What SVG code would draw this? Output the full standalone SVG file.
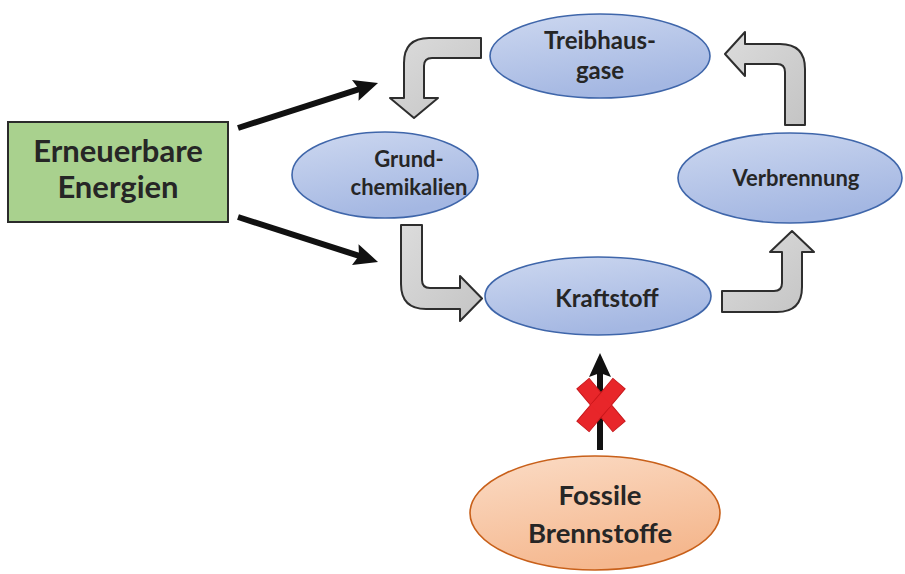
<svg xmlns="http://www.w3.org/2000/svg" width="905" height="574" viewBox="0 0 905 574">
<defs>
<linearGradient id="gBlue" x1="0" y1="0" x2="0.4" y2="1">
<stop offset="0" stop-color="#cdd8f0"/>
<stop offset="1" stop-color="#a4b7e2"/>
</linearGradient>
<linearGradient id="gOrange" x1="0" y1="0" x2="0.4" y2="1">
<stop offset="0" stop-color="#fbdcc6"/>
<stop offset="1" stop-color="#f5b88f"/>
</linearGradient>
<linearGradient id="gGray" x1="0" y1="0" x2="1" y2="1">
<stop offset="0" stop-color="#dcdcdc"/>
<stop offset="1" stop-color="#c4c4c4"/>
</linearGradient>
<marker id="ah" viewBox="0 0 24 22" markerWidth="24" markerHeight="22" markerUnits="userSpaceOnUse" refX="10" refY="11" orient="auto">
<path d="M0,0 L24,11 L0,22 L4,11 Z" fill="#111"/>
</marker>
<style>
.blue{fill:url(#gBlue);stroke:#3f66aa;stroke-width:1.6}
.orange{fill:url(#gOrange);stroke:#c8601a;stroke-width:1.6}
.green{fill:#a9d18e;stroke:#2b2b2b;stroke-width:2}
.bent{fill:url(#gGray);stroke:#2e2e2e;stroke-width:2;stroke-linejoin:round}
.blk{stroke:#111;stroke-width:6;fill:none;marker-end:url(#ah)}
.x{fill:#e8262a;stroke:#c8161a;stroke-width:1}
text{font-family:Lato,"Open Sans","Liberation Sans",sans-serif;font-weight:bold;fill:#262626;text-anchor:middle}
</style>
</defs>
<rect width="905" height="574" fill="#ffffff"/>

<g id="connectors">
<path class="bent" d="M481,38 L429,38 Q404,38 404,63 L404,98 L390,98 L414,118 L438,98 L424,98 L424,66 Q424,58 432,58 L481,58 Z"/>
<path class="bent" d="M401,225 L422,225 L422,280 Q422,288 430,288 L460,288 L460,276 L482,298.5 L460,321 L460,309 L426,309 Q401,309 401,284 Z"/>
<path class="bent" d="M722,291 L774,291 Q782,291 782,283 L782,252 L770,252 L792,231 L814,252 L802,252 L802,287 Q802,312 777,312 L722,312 Z"/>
<path class="bent" d="M805,125 L785,125 L785,72 Q785,64 777,64 L745,64 L745,76 L725,54 L745,32 L745,44 L780,44 Q805,44 805,69 Z"/>
<line class="blk" x1="238" y1="128" x2="364.7" y2="87.3"/>
<line class="blk" x1="238" y1="217" x2="364.7" y2="257.7"/>
<line class="blk" x1="600" y1="450" x2="600" y2="367"/>
<g id="cross" transform="translate(601,405)">
<rect class="x" x="-28" y="-8" width="56" height="16" transform="rotate(50)"/>
<rect class="x" x="-28" y="-8" width="56" height="16" transform="rotate(-50)"/>
<rect x="-7.5" y="-7.5" width="15" height="15" fill="#e8262a" transform="rotate(45)"/>
</g>
</g>

<g id="erneuerbare">
<rect class="green" x="8" y="122" width="220" height="100"/>
<text x="118" y="162" font-size="31">Erneuerbare</text>
<text x="118" y="198" font-size="31">Energien</text>
</g>

<g id="treibhausgase">
<ellipse class="blue" cx="600" cy="56" rx="110" ry="42"/>
<text x="600" y="49" font-size="24">Treibhaus-</text>
<text x="600" y="79" font-size="24">gase</text>
</g>

<g id="grundchemikalien">
<ellipse class="blue" cx="385" cy="175" rx="93" ry="43"/>
<text x="409" y="167" font-size="22">Grund-</text>
<text x="409" y="195" font-size="22">chemikalien</text>
</g>

<g id="kraftstoff">
<ellipse class="blue" cx="598" cy="296" rx="113" ry="39"/>
<text x="607" y="307" font-size="24">Kraftstoff</text>
</g>

<g id="verbrennung">
<ellipse class="blue" cx="790" cy="178" rx="112" ry="45"/>
<text x="796" y="186" font-size="22">Verbrennung</text>
</g>

<g id="fossile">
<ellipse class="orange" cx="595" cy="513" rx="125" ry="57"/>
<text x="600" y="505" font-size="27.5">Fossile</text>
<text x="600" y="543" font-size="27.5">Brennstoffe</text>
</g>
</svg>
